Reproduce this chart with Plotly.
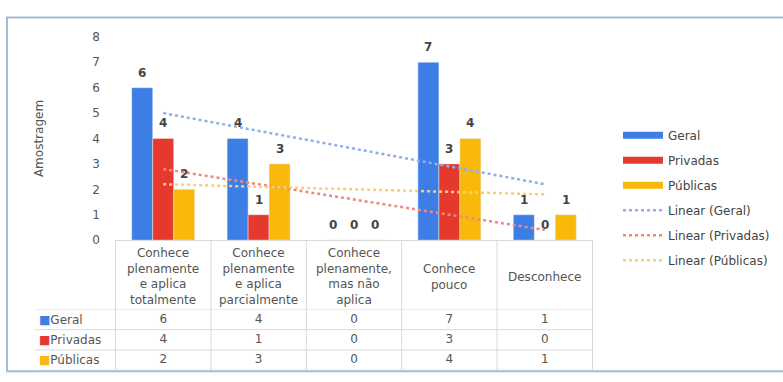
import numpy as np
import plotly.graph_objects as go

# --- data -------------------------------------------------------------
categories = [
    "Conhece plenamente e aplica totalmente",
    "Conhece plenamente e aplica parcialmente",
    "Conhece plenamente, mas não aplica",
    "Conhece pouco",
    "Desconhece",
]
header_labels = [
    "Conhece<br>plenamente<br>e aplica<br>totalmente",
    "Conhece<br>plenamente<br>e aplica<br>parcialmente",
    "Conhece<br>plenamente,<br>mas não<br>aplica",
    "Conhece<br>pouco",
    "Desconhece",
]
series_names = ["Geral", "Privadas", "Públicas"]
geral = [6, 4, 0, 7, 1]
privadas = [4, 1, 0, 3, 0]
publicas = [2, 3, 0, 4, 1]
y_ticks = [0, 1, 2, 3, 4, 5, 6, 7, 8]

series_values = [geral, privadas, publicas]
bar_colors = ["#3D7EE6", "#E5392D", "#F9B90A"]
trend_colors = ["#8FAEEA", "#EC8A82", "#F7D072"]

W, H = 783, 382
FONT = "DejaVu Sans"
BARGAP = 0.34


def px_x(p):
    return p / W


def px_y(p):
    return (H - p) / H


x_left, x_right = 115, 593
x_dom = [px_x(x_left), px_x(x_right)]
bar_px = (x_right - x_left) / len(categories) * (1 - BARGAP) / len(series_names)

fig = go.Figure()

# bars
for name, vals, col in zip(series_names, series_values, bar_colors):
    fig.add_trace(go.Bar(
        x=categories, y=vals, name=name, marker_color=col,
        showlegend=False, hoverinfo="x+y",
    ))

# legend keys for the bar series
for name, col in zip(series_names, bar_colors):
    fig.add_trace(go.Scatter(
        x=[None], y=[None], mode="lines", name=name,
        line=dict(color=col, width=7), legendgroup=name,
    ))

# linear trend lines fitted over the category index
idx = np.arange(len(categories))
for name, vals, col in zip(series_names, series_values, trend_colors):
    slope, intercept = np.polyfit(idx, vals, 1)
    fig.add_trace(go.Scatter(
        x=categories, y=slope * idx + intercept, mode="lines",
        name=f"Linear ({name})", legendgroup=f"Linear ({name})",
        line=dict(color=col, width=2.5, dash="dot"), hoverinfo="skip",
    ))

# data table rows under the chart
for name, vals in zip(series_names, series_values):
    fig.add_trace(go.Scatter(
        x=categories, y=[name] * len(categories), mode="text",
        text=[str(v) for v in vals], yaxis="y2",
        textfont=dict(size=12, color="#555555", family=FONT),
        showlegend=False, hoverinfo="skip",
    ))

table_top, table_bottom = 242, 377
row_top = 314

shapes = []
# outer frame
shapes.append(dict(type="rect", xref="paper", yref="paper",
                   x0=px_x(7), x1=1.02, y0=px_y(378), y1=px_y(11),
                   line=dict(color="#A3BCD2", width=2), layer="below"))
# vertical column rules
for i in range(len(categories) + 1):
    shapes.append(dict(type="line", xref="x", yref="paper",
                       x0=i - 0.5, x1=i - 0.5,
                       y0=px_y(table_bottom), y1=px_y(table_top),
                       line=dict(color="#D9D9D9", width=1)))
# horizontal row rules
for yv in [2.5, 1.5, 0.5, -0.5]:
    shapes.append(dict(type="line", xref="paper", yref="y2",
                       x0=px_x(35), x1=x_dom[1], y0=yv, y1=yv,
                       line=dict(color="#D9D9D9", width=1)))

annotations = []
# value labels above each bar
for k, (name, vals) in enumerate(zip(series_names, series_values)):
    shift = (k - (len(series_names) - 1) / 2) * bar_px
    for cat, v in zip(categories, vals):
        annotations.append(dict(x=cat, y=v, xref="x", yref="y", text=str(v),
                                showarrow=False, xshift=shift, yshift=15,
                                yanchor="middle",
                                font=dict(size=12, color="#444444",
                                          family=FONT, weight="bold")))
# table header (category names)
for cat, lab in zip(categories, header_labels):
    annotations.append(dict(x=cat, xref="x", y=px_y(280), yref="paper",
                            text=lab, showarrow=False, yanchor="middle",
                            xanchor="center", align="center",
                            font=dict(size=12, color="#555555", family=FONT)))
# table row labels with colour keys
for name, col in zip(series_names, bar_colors):
    annotations.append(dict(x=px_x(37), xref="paper", y=name, yref="y2",
                            text=f'<span style="color:{col}">■</span>{name}',
                            showarrow=False, xanchor="left", yanchor="middle",
                            font=dict(size=12, color="#555555", family=FONT)))

fig.update_layout(
    width=W, height=H,
    margin=dict(l=0, r=0, t=0, b=0),
    paper_bgcolor="white", plot_bgcolor="white",
    font=dict(family=FONT, size=12, color="#555555"),
    barmode="group", bargap=BARGAP, bargroupgap=0,
    xaxis=dict(domain=x_dom, showticklabels=False, ticks="",
               showline=True, linecolor="#D9D9D9", linewidth=1,
               showgrid=False, zeroline=False, anchor="y"),
    yaxis=dict(domain=[px_y(242), px_y(31)], range=[0, 8],
               tickvals=y_ticks, showgrid=False, zeroline=False,
               showline=False, ticks="", ticklabelstandoff=14,
               tickfont=dict(size=12, color="#555555"),
               title=dict(text="Amostragem", standoff=46,
                          font=dict(size=12, color="#555555"))),
    yaxis2=dict(domain=[px_y(377), px_y(row_top)], anchor="x",
                type="category",
                categoryorder="array",
                categoryarray=["Públicas", "Privadas", "Geral"],
                range=[-0.5, 2.5], showticklabels=False, showgrid=False,
                zeroline=False, showline=False, ticks=""),
    legend=dict(x=px_x(618), y=px_y(118), xanchor="left", yanchor="top",
                font=dict(size=12, color="#444444"), itemwidth=40,
                tracegroupgap=6, bgcolor="rgba(0,0,0,0)"),
    shapes=shapes,
    annotations=annotations,
)

fig.write_html("out.html")
